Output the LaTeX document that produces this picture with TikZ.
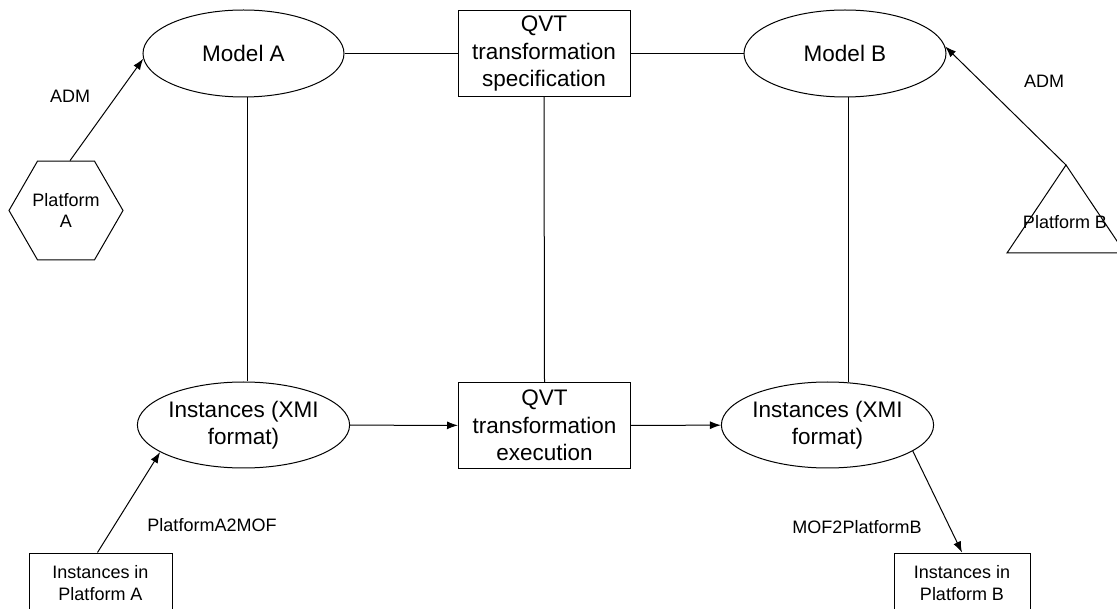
\documentclass[tikz,border=0pt]{standalone}
\usepackage{fontspec}
\setmainfont{Liberation Sans}
\usetikzlibrary{arrows.meta,shapes.geometric}
\begin{document}
\begin{tikzpicture}[x=1pt,y=-1pt,
  line width=1pt,
  bigtext/.style={font=\fontsize{22.5}{27.5}\selectfont,align=center},
  smalltext/.style={font=\fontsize{18}{21.5}\selectfont,align=center},
  oval/.style={draw,ellipse,inner sep=0pt,bigtext},
  qvtbox/.style={draw,rectangle,inner sep=0pt,minimum width=172pt,minimum height=86pt,bigtext},
  instbox/.style={draw,rectangle,inner sep=0pt,minimum height=60pt,smalltext},
  flow/.style={-{Latex[length=11pt,width=8pt]}},
  tag/.style={smalltext,inner sep=0pt}]
\useasboundingbox (0,0) rectangle (1117,609);

% models and transformation boxes
\node[oval,minimum width=201pt,minimum height=87pt] (ma) at (243.5,53.5) {Model A};
\node[oval,minimum width=202pt,minimum height=87pt] (mb) at (845,53.5) {Model B};
\node[qvtbox] (spec) at (544,53.5) {QVT\\transformation\\specification};
\node[qvtbox] (exec) at (544.5,425.5) {QVT\\transformation\\execution};
\node[oval,minimum width=201pt,minimum height=86pt] (ia) at (243.5,425) {Instances (XMI\\format)};
\node[oval,minimum width=190pt,minimum height=86pt] (ib) at (827.5,425) {Instances (XMI\\format)};

% platforms
\node[draw,regular polygon,regular polygon sides=6,minimum size=114pt,inner sep=0pt,smalltext] (pa) at (66,210.5) {Platform\\A};
\draw (1066,165) coordinate (pbtop) -- (1125,253) -- (1007,253) -- cycle;
\node[smalltext,inner sep=0pt] (pb) at (1065,222) {Platform B};
\node[instbox,minimum width=143pt] (ipa) at (100.5,583) {Instances in\\Platform A};
\node[instbox,minimum width=136pt] (ipb) at (962,583) {Instances in\\Platform B};

% connections
\draw (ma) -- (spec);
\draw (spec) -- (mb);
\draw ([xshift=3.5pt]ma.south) -- ([xshift=3.5pt]ma.south |- ia.north);
\draw (spec.south) -- (exec.north);
\draw ([xshift=3pt]mb.south) -- ([xshift=3pt,yshift=-1pt]mb.south |- ib.north);
\draw[flow] (ia) -- (exec);
\draw[flow] (exec) -- (ib);
\draw[flow] ([xshift=4pt]pa.north) -- (ma.183);
\draw[flow] (pbtop) -- (mb.4);
\draw[flow] ([xshift=-3pt]ipa.north) -- (ia.198);
\draw[flow] (ib.-17) -- (ipb.north);

% labels
\node[tag] (adma) at (70,96) {ADM};
\node[tag] (admb) at (1044,81) {ADM};
\node[tag] (a2mof) at (212,525) {PlatformA2MOF};
\node[tag] (mof2b) at (857,527) {MOF2PlatformB};
\end{tikzpicture}
\end{document}
